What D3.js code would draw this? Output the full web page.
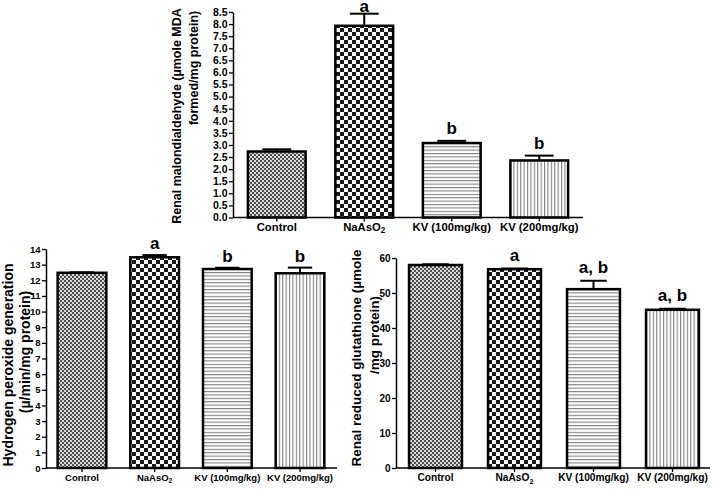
<!DOCTYPE html>
<html>
<head>
<meta charset="utf-8">
<script src="https://cdn.jsdelivr.net/npm/d3@7"></script>
<style>
  html, body { margin: 0; padding: 0; background: #fff; }
  svg { display: block; }
  text { font-family: "Liberation Sans", Arial, sans-serif; font-weight: bold; fill: #000; }
</style>
</head>
<body>
<script>
// ---------- data ----------
const categories = ["Control", "NaAsO2", "KV (100mg/kg)", "KV (200mg/kg)"];

const mdaValues  = [2.73, 7.93, 3.08, 2.36];
const mdaErrors  = [0.09, 0.50, 0.09, 0.20];
const mdaLetters = ["", "a", "b", "b"];
const mdaTicks   = [0, 0.5, 1, 1.5, 2, 2.5, 3, 3.5, 4, 4.5, 5, 5.5, 6, 6.5, 7, 7.5, 8, 8.5];
const mdaTitle   = ["Renal malondialdehyde (\u00b5mole MDA", "formed/mg protein)"];

const h2o2Values  = [12.48, 13.47, 12.72, 12.45];
const h2o2Errors  = [0.03, 0.14, 0.08, 0.36];
const h2o2Letters = ["", "a", "b", "b"];
const h2o2Ticks   = [0, 1, 2, 3, 4, 5, 6, 7, 8, 9, 10, 11, 12, 13, 14];
const h2o2Title   = ["Hydrogen peroxide generation", "(\u00b5/min/mg protein)"];

const gshValues  = [58.0, 56.8, 51.1, 45.2];
const gshErrors  = [0.2, 0.2, 2.4, 0.3];
const gshLetters = ["", "a", "a, b", "a, b"];
const gshTicks   = [0, 10, 20, 30, 40, 50, 60];
const gshTitle   = ["Renal reduced glutathione (\u00b5mole", "/mg protein)"];

// ---------- drawing ----------
const W = 713, H = 492;
const svg = d3.select("body").append("svg").attr("width", W).attr("height", H);
const defs = svg.append("defs");

// fill patterns
const pC = defs.append("pattern").attr("id", "pat0").attr("patternUnits", "userSpaceOnUse").attr("width", 4).attr("height", 4);
pC.append("rect").attr("width", 4).attr("height", 4).attr("fill", "#d8d8d8");
pC.append("rect").attr("x", 0).attr("y", 0).attr("width", 2).attr("height", 2).attr("fill", "#505050");
pC.append("rect").attr("x", 2).attr("y", 2).attr("width", 2).attr("height", 2).attr("fill", "#505050");

const pN = defs.append("pattern").attr("id", "pat1").attr("patternUnits", "userSpaceOnUse").attr("width", 8).attr("height", 8);
pN.append("rect").attr("width", 8).attr("height", 8).attr("fill", "#fff");
pN.append("rect").attr("x", 0).attr("y", 0).attr("width", 4).attr("height", 4).attr("fill", "#1a1a1a");
pN.append("rect").attr("x", 4).attr("y", 4).attr("width", 4).attr("height", 4).attr("fill", "#1a1a1a");

const pHz = defs.append("pattern").attr("id", "pat2").attr("patternUnits", "userSpaceOnUse").attr("width", 4).attr("height", 3.4);
pHz.append("rect").attr("width", 4).attr("height", 3.4).attr("fill", "#fff");
pHz.append("rect").attr("x", 0).attr("y", 0).attr("width", 4).attr("height", 1.1).attr("fill", "#808080");

const pV = defs.append("pattern").attr("id", "pat3").attr("patternUnits", "userSpaceOnUse").attr("width", 3.4).attr("height", 4);
pV.append("rect").attr("width", 3.4).attr("height", 4).attr("fill", "#fff");
pV.append("rect").attr("x", 0).attr("y", 0).attr("width", 1.1).attr("height", 4).attr("fill", "#808080");

function drawPanel(cfg) {
  const g = svg.append("g");
  const x = d3.scaleBand().domain(categories).range([cfg.x0, cfg.x1])
    .paddingInner(cfg.pIn).paddingOuter(cfg.pOut);
  const y = d3.scaleLinear().domain([0, cfg.ticks[cfg.ticks.length - 1]]).range([cfg.y0, cfg.yTop]);
  const bw = x.bandwidth();

  // error bars (upward only)
  const eb = g.append("g");
  categories.forEach((c, i) => {
    const cx = x(c) + bw / 2;
    const top = y(cfg.values[i] + cfg.errors[i]);
    eb.append("line").attr("x1", cx).attr("x2", cx)
      .attr("y1", y(cfg.values[i])).attr("y2", top)
      .attr("stroke", "#000").attr("stroke-width", 2);
    eb.append("line").attr("x1", cx - bw * 0.25).attr("x2", cx + bw * 0.25)
      .attr("y1", top).attr("y2", top)
      .attr("stroke", "#000").attr("stroke-width", 2);
    if (cfg.letters[i]) {
      g.append("text").attr("x", cx).attr("y", Math.max(top - cfg.letterGap, cfg.letterMinY))
        .attr("text-anchor", "middle").style("font-size", cfg.letterSize + "px")
        .text(cfg.letters[i]);
    }
  });

  // bars
  g.append("g").selectAll("rect").data(categories).join("rect")
    .attr("x", c => x(c))
    .attr("y", (c, i) => y(cfg.values[i]))
    .attr("width", bw)
    .attr("height", (c, i) => cfg.y0 - y(cfg.values[i]))
    .attr("fill", (c, i) => `url(#pat${i})`)
    .attr("stroke", "#000").attr("stroke-width", 2.5);

  // y axis
  const ya = g.append("g").attr("transform", `translate(${cfg.x0},0)`)
    .call(d3.axisLeft(y).tickValues(cfg.ticks).tickFormat(cfg.fmt).tickSize(4).tickSizeOuter(0).tickPadding(1.5));
  ya.select(".domain").attr("stroke-width", 1.5);
  ya.selectAll(".tick line").attr("stroke-width", 1.3);
  ya.selectAll("text").style("font-size", cfg.tickSize + "px").style("font-family", null).attr("fill", "#000");

  // x axis
  const xa = g.append("g").attr("transform", `translate(0,${cfg.y0})`)
    .call(d3.axisBottom(x).tickSize(4).tickSizeOuter(0).tickPadding(cfg.catPad));
  xa.select(".domain").attr("d", `M${cfg.x0},0H${cfg.xAxisEnd}`).attr("stroke-width", 1.5);
  xa.selectAll(".tick line").attr("stroke-width", 1.3);
  xa.selectAll("text").style("font-size", cfg.catSize + "px").style("font-family", null).attr("fill", "#000")
    .each(function (d) {
      const t = d3.select(this);
      const m = d.match(/^(NaAsO)(\d)$/);
      if (m) {
        t.text(null);
        t.append("tspan").text(m[1]);
        t.append("tspan").attr("dy", "0.35em").style("font-size", (cfg.catSize * 0.72) + "px").text(m[2]);
      }
    });

  // y title (two lines)
  cfg.title.forEach((line, k) => {
    g.append("text")
      .attr("transform", `translate(${cfg.titleX[k]},${cfg.titleY[k]}) rotate(-90)`)
      .attr("text-anchor", "middle")
      .style("font-size", cfg.titleSize + "px")
      .text(line);
  });
}

drawPanel({
  values: mdaValues, errors: mdaErrors, letters: mdaLetters, ticks: mdaTicks, title: mdaTitle,
  fmt: d3.format(".1f"),
  x0: 233, x1: 583, xAxisEnd: 583, pIn: 0.34, pOut: 0.17,
  y0: 217.5, yTop: 12,
  tickSize: 10.5, catSize: 11.3, catPad: 1, titleSize: 12.5, letterSize: 17, letterGap: 7, letterMinY: 11.5,
  titleX: [181, 198], titleY: [116, 68]
});

drawPanel({
  values: h2o2Values, errors: h2o2Errors, letters: h2o2Letters, ticks: h2o2Ticks, title: h2o2Title,
  fmt: d3.format("d"),
  x0: 46, x1: 336, xAxisEnd: 337, pIn: 0.33, pOut: 0.16,
  y0: 468, yTop: 249,
  tickSize: 9.5, catSize: 9.5, catPad: 2, titleSize: 14, letterSize: 17, letterGap: 6, letterMinY: 0,
  titleX: [12.5, 29.5], titleY: [365, 352]
});

drawPanel({
  values: gshValues, errors: gshErrors, letters: gshLetters, ticks: gshTicks, title: gshTitle,
  fmt: d3.format("d"),
  x0: 396, x1: 712, xAxisEnd: 710, pIn: 0.33, pOut: 0.165,
  y0: 468, yTop: 258,
  tickSize: 10, catSize: 10.2, catPad: 2, titleSize: 13.5, letterSize: 17, letterGap: 8, letterMinY: 0,
  titleX: [361, 379], titleY: [358, 335]
});
</script>
</body>
</html>
